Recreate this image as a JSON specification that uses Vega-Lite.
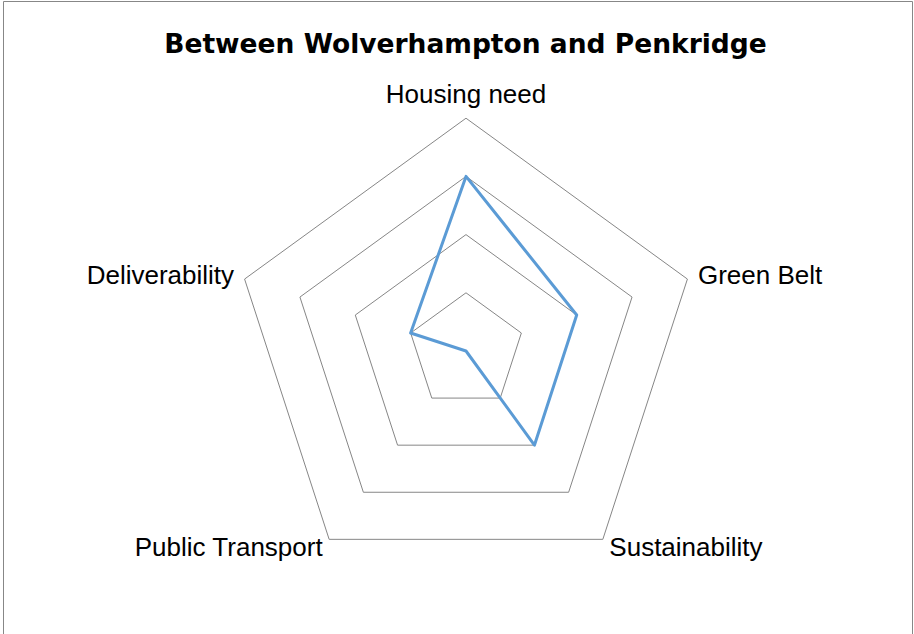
{
  "$schema": "https://vega.github.io/schema/vega-lite/v6.json",
  "width": 909,
  "height": 640,
  "autosize": "none",
  "padding": {"left": 3, "top": 1, "right": 2, "bottom": 0},
  "background": "white",
  "view": {"stroke": "#878787", "strokeWidth": 1},
  "title": {
    "text": "Between Wolverhampton and Penkridge",
    "font": "DejaVu Sans",
    "fontSize": 26.5,
    "fontWeight": "bold",
    "color": "#000000",
    "anchor": "middle",
    "baseline": "alphabetic",
    "offset": -52,
    "dx": 8,
    "dy": 26
  },
  "datasets": {
    "scores": [
      {"category": "Housing need", "order": 0, "score": 3},
      {"category": "Green Belt", "order": 1, "score": 2},
      {"category": "Sustainability", "order": 2, "score": 2},
      {"category": "Public Transport", "order": 3, "score": 0},
      {"category": "Deliverability", "order": 4, "score": 1}
    ],
    "rings": [
      {"ring": 1, "order": 0}, {"ring": 1, "order": 1}, {"ring": 1, "order": 2}, {"ring": 1, "order": 3}, {"ring": 1, "order": 4},
      {"ring": 2, "order": 0}, {"ring": 2, "order": 1}, {"ring": 2, "order": 2}, {"ring": 2, "order": 3}, {"ring": 2, "order": 4},
      {"ring": 3, "order": 0}, {"ring": 3, "order": 1}, {"ring": 3, "order": 2}, {"ring": 3, "order": 3}, {"ring": 3, "order": 4},
      {"ring": 4, "order": 0}, {"ring": 4, "order": 1}, {"ring": 4, "order": 2}, {"ring": 4, "order": 3}, {"ring": 4, "order": 4}
    ]
  },
  "layer": [
    {
      "data": {"name": "rings"},
      "transform": [
        {"calculate": "datum.ring * sin(2 * PI * datum.order / 5)", "as": "x"},
        {"calculate": "datum.ring * cos(2 * PI * datum.order / 5)", "as": "y"}
      ],
      "mark": {"type": "line", "interpolate": "linear-closed", "stroke": "#868686", "strokeWidth": 1},
      "encoding": {
        "x": {"field": "x", "type": "quantitative", "scale": {"domain": [-7.955, 7.663], "nice": false, "zero": false}, "axis": null},
        "y": {"field": "y", "type": "quantitative", "scale": {"domain": [-4.983, 6.014], "nice": false, "zero": false}, "axis": null},
        "detail": {"field": "ring", "type": "nominal"},
        "order": {"field": "order", "type": "quantitative"}
      }
    },
    {
      "data": {"name": "scores"},
      "transform": [
        {"calculate": "datum.score * sin(2 * PI * datum.order / 5)", "as": "x"},
        {"calculate": "datum.score * cos(2 * PI * datum.order / 5)", "as": "y"}
      ],
      "mark": {"type": "line", "interpolate": "linear-closed", "stroke": "#5B9BD5", "strokeWidth": 3, "strokeJoin": "round"},
      "encoding": {
        "x": {"field": "x", "type": "quantitative", "axis": null},
        "y": {"field": "y", "type": "quantitative", "axis": null},
        "order": {"field": "order", "type": "quantitative"}
      }
    },
    {
      "data": {"name": "scores"},
      "transform": [
        {"filter": "datum.order == 0"},
        {"calculate": "4.19 * sin(2 * PI * datum.order / 5)", "as": "x"},
        {"calculate": "4.19 * cos(2 * PI * datum.order / 5)", "as": "y"}
      ],
      "mark": {"type": "text", "align": "center", "baseline": "bottom", "font": "Liberation Sans", "fontSize": 26, "color": "#000000", "dy": 1},
      "encoding": {
        "x": {"field": "x", "type": "quantitative", "axis": null},
        "y": {"field": "y", "type": "quantitative", "axis": null},
        "text": {"field": "category"}
      }
    },
    {
      "data": {"name": "scores"},
      "transform": [
        {"filter": "datum.order == 1 || datum.order == 2"},
        {"calculate": "4.19 * sin(2 * PI * datum.order / 5)", "as": "x"},
        {"calculate": "4.19 * cos(2 * PI * datum.order / 5)", "as": "y"}
      ],
      "mark": {"type": "text", "align": "left", "baseline": "middle", "font": "Liberation Sans", "fontSize": 26, "color": "#000000"},
      "encoding": {
        "x": {"field": "x", "type": "quantitative", "axis": null},
        "y": {"field": "y", "type": "quantitative", "axis": null},
        "text": {"field": "category"}
      }
    },
    {
      "data": {"name": "scores"},
      "transform": [
        {"filter": "datum.order == 3 || datum.order == 4"},
        {"calculate": "4.19 * sin(2 * PI * datum.order / 5)", "as": "x"},
        {"calculate": "4.19 * cos(2 * PI * datum.order / 5)", "as": "y"}
      ],
      "mark": {"type": "text", "align": "right", "baseline": "middle", "font": "Liberation Sans", "fontSize": 26, "color": "#000000"},
      "encoding": {
        "x": {"field": "x", "type": "quantitative", "axis": null},
        "y": {"field": "y", "type": "quantitative", "axis": null},
        "text": {"field": "category"}
      }
    }
  ]
}
